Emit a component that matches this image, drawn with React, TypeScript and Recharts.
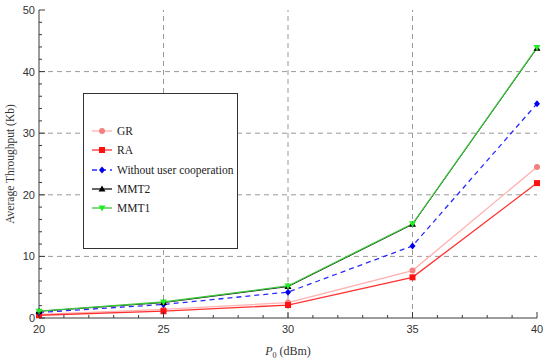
import React from 'react';
import { LineChart, Line, XAxis, YAxis, ReferenceLine, Legend } from 'recharts';

const pValues = [20, 25, 30, 35, 40];
const gr = [0.6, 1.4, 2.5, 7.7, 24.5];
const ra = [0.45, 1.1, 2.1, 6.6, 21.9];
const without = [0.9, 2.2, 4.2, 11.7, 34.8];
const mmt2 = [1.1, 2.5, 5.1, 15.2, 43.8];
const mmt1 = [1.1, 2.6, 5.2, 15.3, 43.9];

const xMajor = [20, 25, 30, 35, 40];
const xTicks = [20, 21, 22, 23, 24, 25, 26, 27, 28, 29, 30, 31, 32, 33, 34, 35, 36, 37, 38, 39, 40];
const yMajor = [0, 10, 20, 30, 40, 50];
const yTicks = [0, 2, 4, 6, 8, 10, 12, 14, 16, 18, 20, 22, 24, 26, 28, 30, 32, 34, 36, 38, 40, 42, 44, 46, 48, 50];
const xGrid = [25, 30, 35];
const yGrid = [10, 20, 30, 40];

const data = pValues.map((p, i) => ({
  p,
  gr: gr[i],
  ra: ra[i],
  without: without[i],
  mmt2: mmt2[i],
  mmt1: mmt1[i],
}));

const FRAME = '#3a3a3a';
const TICKFONT = 'Liberation Sans, Arial, sans-serif';
const SERIF = 'Liberation Serif, Times New Roman, serif';

const series = [
  { key: 'gr', name: 'GR', line: '#ffb0b0', marker: '#f47f7f', shape: 'circle', dash: undefined, w: 1.3 },
  { key: 'ra', name: 'RA', line: '#ff3030', marker: '#ff1010', shape: 'square', dash: undefined, w: 1.3 },
  { key: 'without', name: 'Without user cooperation', line: '#2a2aff', marker: '#0000ee', shape: 'diamond', dash: '5 4', w: 1.3 },
  { key: 'mmt2', name: 'MMT2', line: '#111111', marker: '#000000', shape: 'triUp', dash: undefined, w: 1 },
  { key: 'mmt1', name: 'MMT1', line: '#3cc43c', marker: '#22ee22', shape: 'triDown', dash: undefined, w: 1.3 },
];

function Marker({ cx, cy, shape, color }: any) {
  if (cx == null || cy == null) return null;
  switch (shape) {
    case 'circle':
      return <circle cx={cx} cy={cy} r={3} fill={color} />;
    case 'square':
      return <rect x={cx - 3} y={cy - 3} width={6} height={6} fill={color} />;
    case 'diamond':
      return <polygon points={`${cx},${cy - 3.5} ${cx + 3},${cy} ${cx},${cy + 3.5} ${cx - 3},${cy}`} fill={color} />;
    case 'triUp':
      return <polygon points={`${cx},${cy - 3.5} ${cx + 3.5},${cy + 2.5} ${cx - 3.5},${cy + 2.5}`} fill={color} />;
    case 'triDown':
      return <polygon points={`${cx},${cy + 3.5} ${cx + 3.5},${cy - 2.5} ${cx - 3.5},${cy - 2.5}`} fill={color} />;
    default:
      return null;
  }
}

function XTick(props: any) {
  const { x, y, payload, side } = props;
  const v = payload.value;
  const major = xMajor.includes(v);
  const len = major ? 6 : 3;
  const dir = side === 'bottom' ? -1 : 1;
  return (
    <g>
      <line x1={x} y1={y} x2={x} y2={y + dir * len} stroke={FRAME} strokeWidth={1} />
      {major && side === 'bottom' && (
        <text x={x} y={y + 15} textAnchor="middle" fontFamily={TICKFONT} fontSize={11} fill="#333">
          {v}
        </text>
      )}
    </g>
  );
}

function YTick(props: any) {
  const { x, y, payload, side } = props;
  const v = payload.value;
  const major = yMajor.includes(v);
  const len = major ? 6 : 3;
  const dir = side === 'left' ? 1 : -1;
  return (
    <g>
      <line x1={x} y1={y} x2={x + dir * len} y2={y} stroke={FRAME} strokeWidth={1} />
      {major && side === 'left' && (
        <text x={x - 4} y={y + 4} textAnchor="end" fontFamily={TICKFONT} fontSize={11} fill="#333">
          {v}
        </text>
      )}
    </g>
  );
}

function LegendBox() {
  const rowY = [131, 150, 170, 189, 208];
  const top = 93;
  const left = 83;
  return (
    <svg width={155} height={156} style={{ display: 'block' }}>
      <rect x={0.5} y={0.5} width={154} height={155} fill="#fff" stroke="#333" strokeWidth={1} />
      {series.map((s, i) => {
        const cy = rowY[i] - top;
        return (
          <g key={s.key}>
            <line x1={92 - left} y1={cy} x2={112 - left} y2={cy} stroke={s.line} strokeWidth={1.3} strokeDasharray={s.dash} />
            <Marker cx={102 - left} cy={cy} shape={s.shape} color={s.marker} />
            <text x={117 - left} y={cy + 4} fontFamily={SERIF} fontSize={11.5} fill="#222">
              {s.name}
            </text>
          </g>
        );
      })}
    </svg>
  );
}

export default function App() {
  return (
    <div style={{ position: 'absolute', left: 0, top: 0, width: 550, height: 364, background: '#fff' }}>
      <LineChart width={550} height={364} data={data} margin={{ top: 10, right: 13, bottom: 0, left: 0 }}>
        <XAxis
          dataKey="p"
          type="number"
          domain={[20, 40]}
          ticks={xTicks}
          interval={0}
          tickSize={0}
          tickMargin={0}
          height={46}
          stroke={FRAME}
          tick={<XTick side="bottom" />}
          label={{
            content: () => (
              <text x={288} y={355} textAnchor="middle" fontFamily={SERIF} fontSize={12} fill="#333">
                <tspan fontStyle="italic">P</tspan>
                <tspan dy={3} fontSize={8}>0</tspan>
                <tspan dy={-3}> (dBm)</tspan>
              </text>
            ),
          }}
        />
        <XAxis
          xAxisId="top"
          orientation="top"
          dataKey="p"
          type="number"
          domain={[20, 40]}
          ticks={xTicks}
          interval={0}
          tickSize={0}
          tickMargin={0}
          height={0}
          stroke={FRAME}
          tick={<XTick side="top" />}
        />
        <YAxis
          type="number"
          domain={[0, 50]}
          ticks={yTicks}
          interval={0}
          tickSize={0}
          tickMargin={0}
          width={39}
          stroke={FRAME}
          tick={<YTick side="left" />}
          label={{
            content: () => (
              <text
                x={14}
                y={164}
                transform="rotate(-90,14,164)"
                textAnchor="middle"
                fontFamily={SERIF}
                fontSize={11.5}
                fill="#333"
              >
                Average Throughput  (Kb)
              </text>
            ),
          }}
        />
        <YAxis
          yAxisId="right"
          orientation="right"
          type="number"
          domain={[0, 50]}
          ticks={yTicks}
          interval={0}
          tickSize={0}
          tickMargin={0}
          width={0}
          stroke={FRAME}
          tick={<YTick side="right" />}
        />
        {yGrid.map((v) => (
          <ReferenceLine key={'y' + v} y={v} stroke="#999" strokeDasharray="5 4" />
        ))}
        {xGrid.map((v) => (
          <ReferenceLine key={'x' + v} x={v} stroke="#999" strokeDasharray="5 4" />
        ))}
        <Legend
          layout="horizontal"
          verticalAlign="middle"
          align="center"
          wrapperStyle={{ position: 'absolute', left: 83, top: 93, width: 155, height: 156 }}
          content={() => <LegendBox />}
        />
        {series.map((s) => (
          <Line
            key={s.key}
            dataKey={s.key}
            name={s.name}
            stroke={s.line}
            strokeWidth={s.w}
            strokeDasharray={s.dash}
            isAnimationActive={false}
            dot={(p: any) => <Marker key={s.key + p.index} cx={p.cx} cy={p.cy} shape={s.shape} color={s.marker} />}
            activeDot={false}
          />
        ))}
      </LineChart>
    </div>
  );
}
